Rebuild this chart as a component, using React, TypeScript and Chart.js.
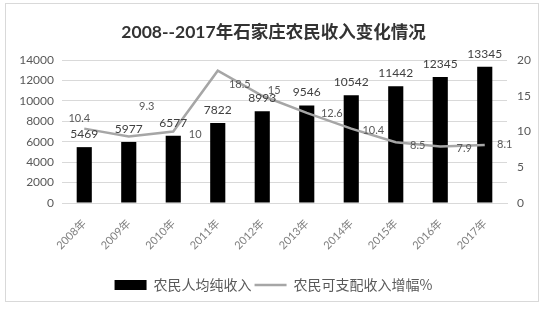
import React, { useEffect, useRef } from 'react';
import { Chart, registerables } from 'chart.js';

Chart.register(...registerables);

const categories = ['2008年', '2009年', '2010年', '2011年', '2012年', '2013年', '2014年', '2015年', '2016年', '2017年'];
const netIncome = [5469, 5977, 6577, 7822, 8993, 9546, 10542, 11442, 12345, 13345];
const growthRate = [10.4, 9.3, 10, 18.5, 15, 12.6, 10.4, 8.5, 7.9, 8.1];
const incomeLabel = '农民人均纯收入';
const growthLabel = '农民可支配收入增幅%';
const titleText = '2008--2017年石家庄农民收入变化情况';

// label placement offsets (px) for the growth-rate labels
const rateLabelOffsets = [
  [-5, -10], [18, -30], [22, 3], [22, 14], [12, -5],
  [25, 1], [22, 2], [22, 3], [24, 2], [20, -1],
];

const NUM_FONT = 'Lato, "Noto Sans", sans-serif';
const CJK_FONT = '"Noto Sans CJK SC", sans-serif';

const labelPlugin = {
  id: 'valueLabels',
  afterDatasetsDraw(chart: any) {
    const ctx = chart.ctx;
    ctx.save();
    ctx.font = `12px ${NUM_FONT}`;
    ctx.fillStyle = '#404040';
    ctx.textAlign = 'center';
    ctx.textBaseline = 'middle';
    const barMeta = chart.getDatasetMeta(0);
    barMeta.data.forEach((el: any, i: number) => {
      ctx.fillText(String(netIncome[i]), el.x, el.y - 13);
    });
    const lineMeta = chart.getDatasetMeta(1);
    ctx.font = `11px ${NUM_FONT}`;
    ctx.fillStyle = '#595959';
    lineMeta.data.forEach((el: any, i: number) => {
      const [dx, dy] = rateLabelOffsets[i];
      ctx.fillText(String(growthRate[i]), el.x + dx, el.y + dy);
    });
    ctx.restore();
  },
};

export default function App() {
  const ref = useRef<HTMLCanvasElement>(null);
  useEffect(() => {
    if (!ref.current) return;
    const chart = new Chart(ref.current, {
      type: 'bar',
      data: {
        labels: categories,
        datasets: [
          {
            type: 'bar',
            label: incomeLabel,
            data: netIncome,
            backgroundColor: '#000000',
            borderWidth: 0,
            barPercentage: 0.68,
            categoryPercentage: 0.5,
            yAxisID: 'y',
            order: 1,
          },
          {
            type: 'line',
            label: growthLabel,
            data: growthRate,
            borderColor: '#a6a6a6',
            backgroundColor: '#a6a6a6',
            borderWidth: 2.5,
            pointRadius: 0,
            pointStyle: 'line',
            tension: 0,
            yAxisID: 'y1',
            order: 0,
          } as any,
        ],
      },
      options: {
        animation: false,
        responsive: false,
        layout: { padding: { left: 5, right: 5, top: 0, bottom: 9 } },
        plugins: {
          tooltip: { enabled: false },
          title: {
            display: true,
            text: titleText,
            color: '#333333',
            font: { family: `Lato, ${CJK_FONT}`, size: 17.5, weight: 'bold' },
            padding: { top: 22, bottom: 17 },
          },
          legend: {
            position: 'bottom',
            labels: {
              usePointStyle: true,
              pointStyleWidth: 32,
              boxHeight: 10,
              color: '#595959',
              padding: 3,
              font: { family: CJK_FONT, size: 14 },
              generateLabels: (c: any) => {
                const items = (Chart.defaults.plugins.legend.labels as any).generateLabels(c);
                items.sort((a: any, b: any) => a.datasetIndex - b.datasetIndex);
                items.forEach((it: any) => {
                  if (it.datasetIndex === 0) {
                    it.pointStyle = 'rect';
                    it.lineWidth = 0;
                    it.fillStyle = '#000000';
                  } else {
                    it.pointStyle = 'line';
                    it.strokeStyle = '#a6a6a6';
                    it.lineWidth = 2.5;
                  }
                });
                return items;
              },
            },
          },
        },
        scales: {
          x: {
            grid: { display: false },
            border: { display: true, color: '#d9d9d9' },
            ticks: {
              color: '#7f7f7f',
              font: { family: `Lato, ${CJK_FONT}`, size: 11 },
              maxRotation: 45,
              minRotation: 45,
              padding: 6,
            },
            afterFit: (s: any) => { s.height = 72; },
          },
          y: {
            position: 'left',
            min: 0,
            max: 14000,
            ticks: {
              stepSize: 2000,
              color: '#595959',
              font: { family: NUM_FONT, size: 12 },
              padding: 8,
              callback: (v: any) => String(v),
            },
            grid: { color: '#d9d9d9', drawTicks: false },
            border: { display: false },
            afterFit: (s: any) => { s.width = 57; },
          },
          y1: {
            position: 'right',
            min: 0,
            max: 20,
            ticks: {
              stepSize: 5,
              color: '#595959',
              font: { family: NUM_FONT, size: 12 },
              padding: 10,
              callback: (v: any) => String(v),
            },
            grid: { display: false, drawTicks: false },
            border: { display: false },
            afterFit: (s: any) => { s.width = 35; },
          },
        },
      },
      plugins: [labelPlugin],
    } as any);
    return () => chart.destroy();
  }, []);

  return (
    <div style={{ position: 'absolute', left: 0, top: 0, width: 547, height: 311, background: '#fff' }}>
      <div
        style={{
          position: 'absolute',
          left: 5,
          top: 3,
          width: 534,
          height: 299,
          border: '1px solid #d9d9d9',
          boxSizing: 'border-box',
        }}
      />
      <canvas ref={ref} width={547} height={311} style={{ position: 'absolute', left: 0, top: 0 }} />
    </div>
  );
}
